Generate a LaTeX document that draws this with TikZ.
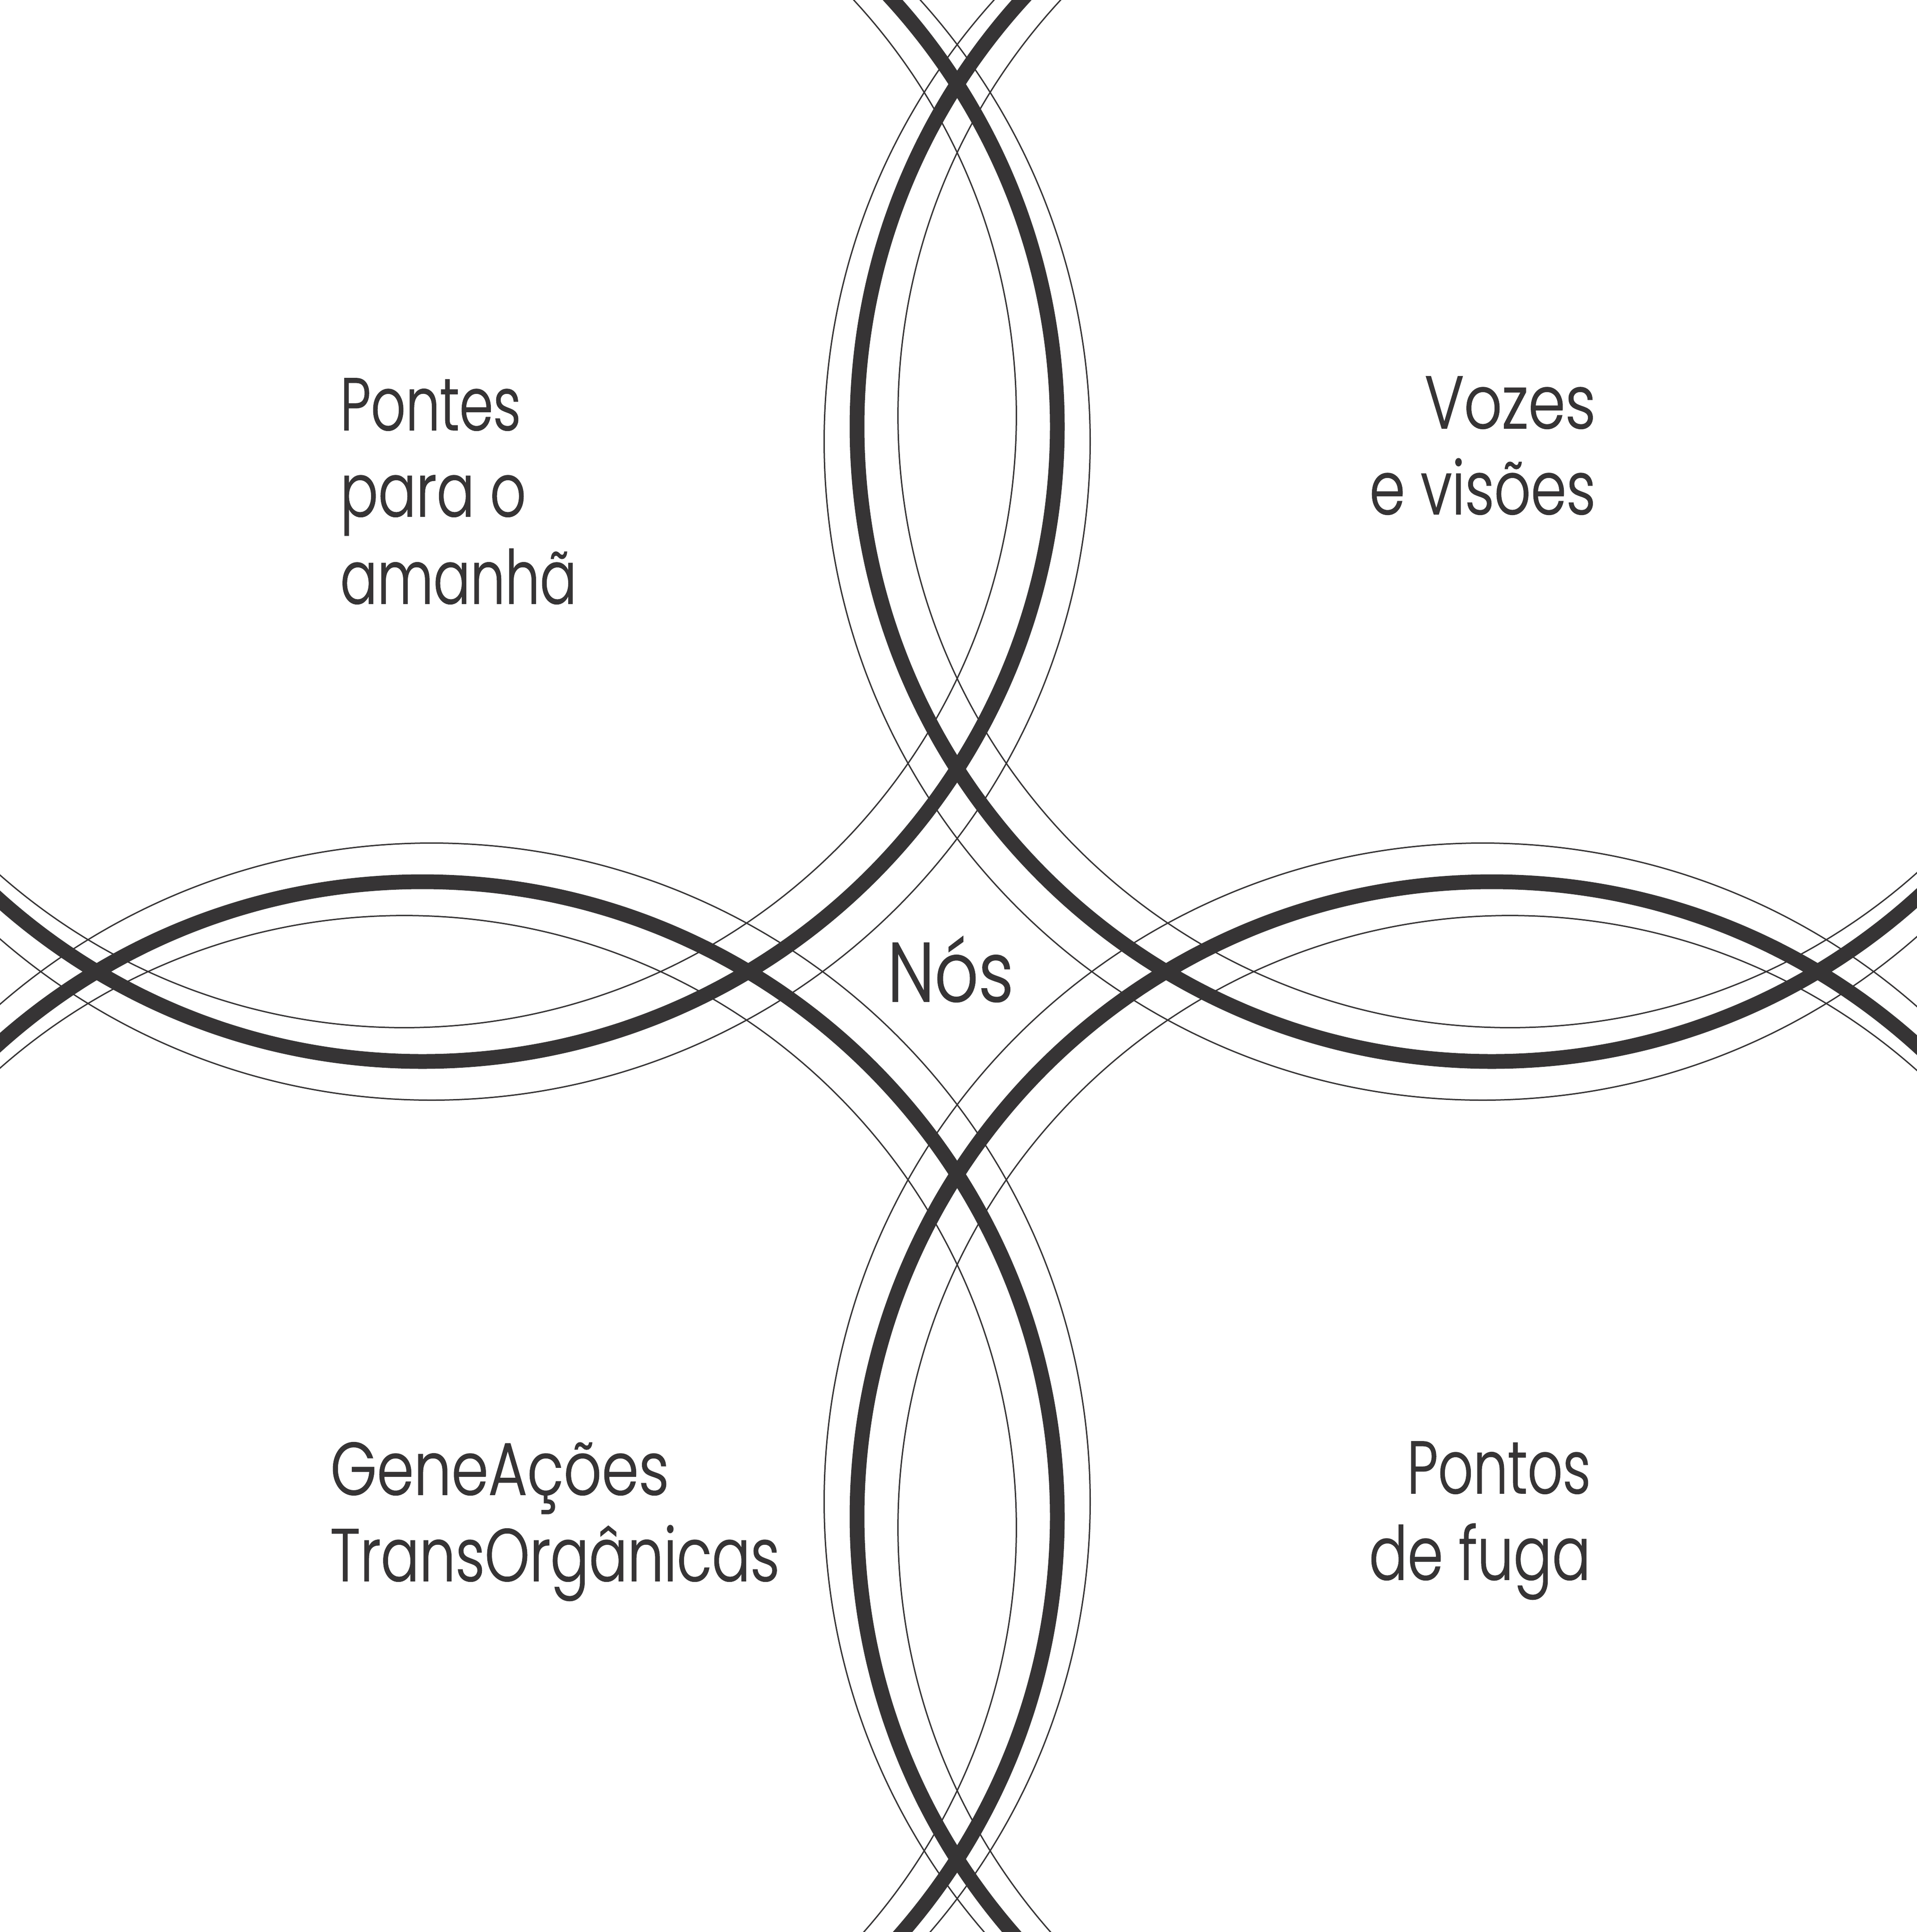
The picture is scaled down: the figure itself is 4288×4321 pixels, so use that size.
\documentclass[tikz,border=0pt]{standalone}
\usepackage{fontspec}
\IfFontExistsTF{Poppins Light}{\newfontfamily\labfont{Poppins Light}[FakeStretch=0.77,FakeBold=1]}{\newfontfamily\labfont{Poppins}[FakeStretch=0.77]}
\definecolor{ink}{RGB}{54,52,53}
\newcommand{\hsq}[2]{\scalebox{#1}[1]{#2}}
\tikzset{
  thickring/.style={draw=ink, line width=33pt},
  thinring/.style={draw=ink, line width=3pt},
  lab/.style={text=ink, font=\labfont\fontsize{166}{193}\selectfont, inner sep=0pt, outer sep=0pt},
  centerlab/.style={text=ink, font=\labfont\fontsize{188}{200}\selectfont, inner sep=0pt, outer sep=0pt}
}
\begin{document}
\begin{tikzpicture}[x=1pt,y=-1pt]
\useasboundingbox (0,0) rectangle (4288,4321);
\fill[white] (0,0) rectangle (4288,4321);
\begin{scope}
  \clip (0,0) rectangle (4288,4321);
  \foreach \cx/\cy/\sx/\sy in {945/954/1/1, 3337/954/-1/1, 945/3392/1/-1, 3337/3392/-1/-1}{
    \draw[thinring] ({\cx+20.5*\sx},{\cy+33.5*\sy}) circle[radius=1473pt];
    \draw[thinring] ({\cx-40.6*\sx},{\cy-24.6*\sy}) circle[radius=1369pt];
    \draw[thickring] (\cx,\cy) circle[radius=1420pt];
  }
\end{scope}
\node[lab, anchor=base west] (t1a) at (761,962) {\hsq{0.95}{Pontes}};
\node[lab, anchor=base west] (t1b) at (761,1155) {\hsq{0.985}{para o}};
\node[lab, anchor=base west] (t1c) at (761,1350) {\hsq{0.96}{amanhã}};
\node[lab, anchor=base east] (t2a) at (3569,958) {\hsq{1.04}{Vozes}};
\node[lab, anchor=base east] (t2b) at (3569,1150) {e visões};
\node[lab, anchor=base west] (t3a) at (739,3343) {\hsq{1.04}{GeneAções}};
\node[lab, anchor=base west] (t3b) at (739,3536) {TransOrgânicas};
\node[lab, anchor=base east] (t4a) at (3558,3340) {\hsq{0.96}{Pontos}};
\node[lab, anchor=base east] (t4b) at (3558,3533) {de fuga};
\node[centerlab, anchor=base] (nos) at (2126,2240) {\hsq{1.06}{Nós}};
\end{tikzpicture}
\end{document}
